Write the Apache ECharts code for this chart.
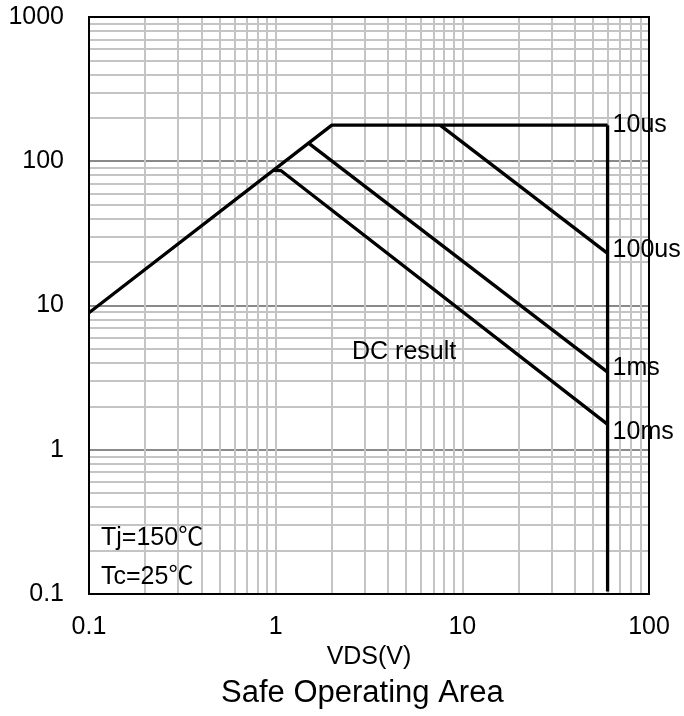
<!DOCTYPE html>
<html>
<head>
<meta charset="utf-8">
<script src="https://cdn.jsdelivr.net/npm/echarts@6/dist/echarts.min.js"></script>
<style>
  html, body { margin: 0; padding: 0; background: #fff; }
  #chart { width: 684px; height: 716px; }
</style>
</head>
<body>
<div id="chart"></div>
<script>
// Safe Operating Area: drain current vs drain-source voltage, log-log.
const xTicks = [0.1, 1, 10, 100];
const yTicks = [0.1, 1, 10, 100, 1000];
const xMinorGrid = [0.2, 0.3, 0.4, 0.5, 0.6, 0.7, 0.8, 0.9,
                    2, 3, 4, 5, 6, 7, 8, 9,
                    20, 30, 40, 50, 60, 70, 80, 90];
const yMinorGrid = [0.2, 0.3, 0.4, 0.5, 0.6, 0.7, 0.8, 0.9,
                    2, 3, 4, 5, 6, 7, 8, 9,
                    20, 30, 40, 50, 60, 70, 80, 90,
                    200, 300, 400, 500, 600, 700, 800, 900];

// RDS(on) limit rising into the package current limit (10us curve)
const curve10us = [[0.1, 8.9], [2.0, 178], [60, 178]];
// BVDSS vertical limit
const limitVds = [[60, 178], [60, 0.104]];
const curve100us = [[7.6, 178], [60, 23]];
const curve1ms = [[1.5, 133.5], [60, 3.45]];
const curve10ms = [[0.97, 86.5], [1.07, 86], [60, 1.5]];

const curveNames = ['10us', '100us', '1ms', '10ms'];

const FONT = '"Liberation Sans", Arial, "Noto Sans CJK SC", sans-serif';
const chart = echarts.init(document.getElementById('chart'), null, { renderer: 'canvas' });

const tickText = v => String(+Number(v).toPrecision(3));

const curveLine = { color: '#000', width: 3.3 };
function curveSeries(name, data, labelOffset) {
  return {
    name: name,
    type: 'line',
    data: data,
    showSymbol: false,
    silent: true,
    z: 5,
    lineStyle: curveLine,
    endLabel: {
      show: true,
      formatter: name,
      color: '#000',
      fontFamily: FONT,
      fontSize: 25,
      distance: 5,
      offset: labelOffset
    },
    animation: false
  };
}

const option = {
  animation: false,
  backgroundColor: '#fff',
  grid: {
    left: 89, right: 35, top: 17, bottom: 122,
    containLabel: false,
    outerBoundsMode: 'none',
    show: true, borderColor: '#000', borderWidth: 2, backgroundColor: 'transparent',
    z: 10
  },
  title: {
    text: 'Safe Operating Area',
    left: 221, top: 678, padding: 0,
    textStyle: { fontFamily: FONT, fontSize: 31, fontWeight: 'normal', color: '#000' }
  },
  xAxis: {
    type: 'log', logBase: 10, min: xTicks[0], max: xTicks[xTicks.length - 1],
    name: 'VDS(V)', nameLocation: 'middle', nameGap: 39,
    nameTextStyle: { fontFamily: FONT, fontSize: 25, color: '#000' },
    axisLine: { show: false },
    axisTick: { show: false },
    axisLabel: { fontFamily: FONT, fontSize: 25, color: '#000', margin: 21, formatter: tickText },
    splitLine: { show: true, lineStyle: { color: '#c4c4c4', width: 2 } }
  },
  yAxis: {
    type: 'log', logBase: 10, min: yTicks[0], max: yTicks[yTicks.length - 1],
    name: 'ID(A)', nameLocation: 'middle', nameGap: 55,
    nameTextStyle: { fontFamily: FONT, fontSize: 25, color: '#000' },
    axisLine: { show: false },
    axisTick: { show: false },
    axisLabel: { fontFamily: FONT, fontSize: 25, color: '#000', margin: 25, formatter: tickText },
    splitLine: { show: true, lineStyle: { color: '#8a8a8a', width: 2 } }
  },
  graphic: [
    { type: 'text', z: 100, x: 352, y: 352, style: { text: 'DC result', fill: '#000', font: '25px ' + FONT, verticalAlign: 'middle' } },
    { type: 'text', z: 100, x: 101, y: 538, style: { text: 'Tj=150℃', fill: '#000', font: '25px ' + FONT, verticalAlign: 'middle' } },
    { type: 'text', z: 100, x: 101, y: 577, style: { text: 'Tc=25℃', fill: '#000', font: '25px ' + FONT, verticalAlign: 'middle' } }
  ],
  series: [
    {
      name: 'grid-minor',
      type: 'line',
      data: [],
      silent: true,
      z: 1,
      markLine: {
        silent: true,
        symbol: ['none', 'none'],
        label: { show: false },
        lineStyle: { color: '#c4c4c4', width: 2, type: 'solid' },
        data: xMinorGrid.map(v => ({ xAxis: v })).concat(yMinorGrid.map(v => ({ yAxis: v }))),
        animation: false
      }
    },
    curveSeries(curveNames[0], curve10us, [0, 0]),
    {
      name: 'limit', type: 'line', data: limitVds, showSymbol: false, silent: true, z: 5,
      lineStyle: curveLine
    },
    curveSeries(curveNames[1], curve100us, [0, -3]),
    curveSeries(curveNames[2], curve1ms, [0, -4]),
    curveSeries(curveNames[3], curve10ms, [0, 8])
  ]
};

chart.setOption(option);
</script>
</body>
</html>
